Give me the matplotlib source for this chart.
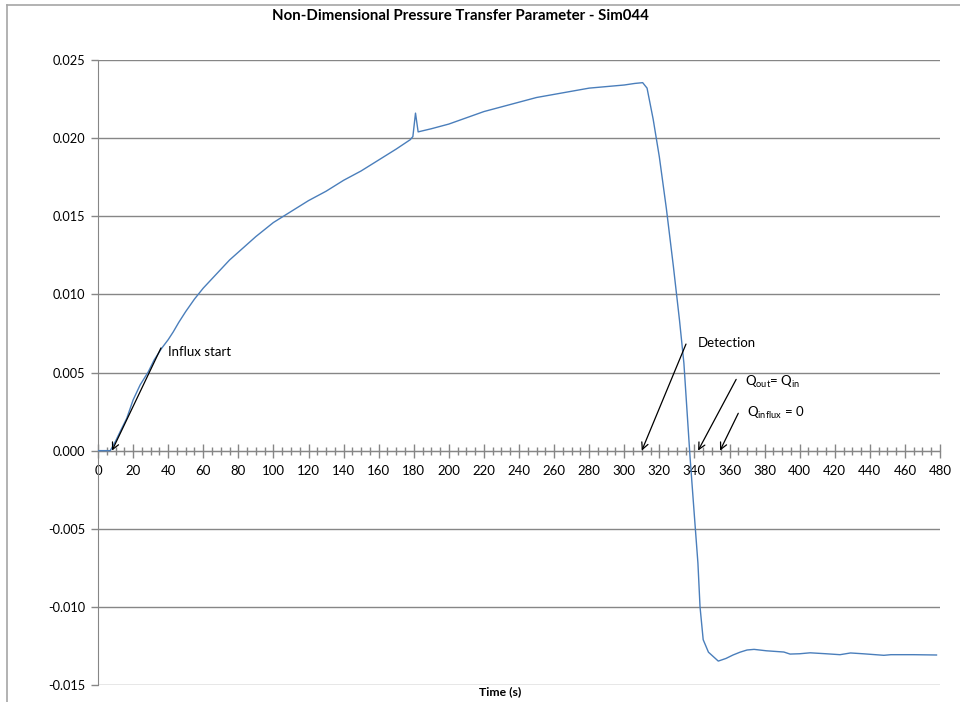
import matplotlib
matplotlib.use("Agg")
import matplotlib.pyplot as plt
from matplotlib.ticker import MultipleLocator, FormatStrFormatter
from matplotlib.lines import Line2D

plt.rcParams['font.family'] = ['Lato', 'DejaVu Sans']
plt.rcParams['mathtext.fontset'] = 'custom'
plt.rcParams['mathtext.rm'] = 'Lato'
plt.rcParams['axes.unicode_minus'] = False

# Pressure transfer parameter over simulation time
time_s = [0, 7, 10, 13, 16.4, 20, 24, 28.7, 32, 36.3, 40, 42.9, 46, 50, 55,
          60, 65, 70, 75, 80, 90, 100, 110, 120, 130, 140, 150, 160, 170, 178,
          179.5, 181, 182.5, 190, 200, 210, 220, 230, 240, 250, 260, 270,
          280, 290, 300, 306, 310.5, 313, 316.5, 320, 324, 328, 331.5, 334,
          337.5, 340, 342, 343.2, 345, 348, 353.6, 358, 362, 366, 370, 374,
          381, 391, 394.5, 400, 406, 415, 423, 429, 436, 448, 452, 465, 478]
pressure_param = [0, 0, 0.0006, 0.0013, 0.00207, 0.00324, 0.0042, 0.00505,
                  0.0058, 0.00655, 0.0071, 0.0076, 0.0082, 0.0089, 0.0097,
                  0.0104, 0.0110, 0.0116, 0.0122, 0.0127, 0.0137, 0.0146,
                  0.0153, 0.0160, 0.0166, 0.0173, 0.0179, 0.0186, 0.0193,
                  0.0199, 0.0201, 0.0216, 0.0204, 0.0206, 0.0209, 0.0213,
                  0.0217, 0.0220, 0.0223, 0.0226, 0.0228, 0.0230, 0.0232,
                  0.0233, 0.0234, 0.0235, 0.02355, 0.0232, 0.0212, 0.0188,
                  0.0155, 0.0118, 0.00834, 0.0056, -0.0004, -0.0042, -0.0072,
                  -0.0100, -0.0121, -0.0129, -0.01347, -0.0133, -0.01308,
                  -0.0129, -0.01276, -0.01272, -0.01281, -0.01289, -0.01302,
                  -0.0130, -0.01294, -0.0130, -0.01306, -0.01295, -0.0130,
                  -0.0131, -0.01306, -0.01306, -0.01308]

# Event annotations: label, text position, arrow tail, arrow head (data units)
events = [
    ("Influx start", (40, 0.0063), (35.9, 0.00657), (8.0, 0.0)),
    ("Detection", (342, 0.0069), (335.2, 0.00682), (310.0, 0.0)),
    (r"Q$_{\mathrm{out}}$= Q$_{\mathrm{in}}$", (369, 0.0044), (363.8, 0.00456), (342.1, 0.0)),
    (r"Q$_{\mathrm{influx}}$ = 0", (370, 0.0024), (365.0, 0.00239), (354.6, 0.0)),
]

W, H = 960, 702
fig = plt.figure(figsize=(W / 100, H / 100), dpi=100)
ax = fig.add_axes([98 / W, 1 - 685 / H, (940 - 98) / W, (685 - 60) / H])

# outer chart frame
frame_c = '#a6a6a6'
fig.add_artist(Line2D([7 / W, 1], [1 - 4.5 / H, 1 - 4.5 / H], color=frame_c, lw=1.2,
                      transform=fig.transFigure))
fig.add_artist(Line2D([7 / W, 7 / W], [0, 1 - 4.5 / H], color=frame_c, lw=1.2,
                      transform=fig.transFigure))

ax.plot(time_s, pressure_param, color='#4a7ebb', lw=1.0, zorder=3)

ax.set_xlim(0, 480)
ax.set_ylim(-0.015, 0.025)
ax.xaxis.set_major_locator(MultipleLocator(20))
ax.xaxis.set_minor_locator(MultipleLocator(5))
ax.yaxis.set_major_locator(MultipleLocator(0.005))
ax.yaxis.set_major_formatter(FormatStrFormatter('%.3f'))

axis_c = '#868686'
ax.grid(axis='y', color=axis_c, lw=1.0)
ax.set_axisbelow(True)
for s in ('top', 'right'):
    ax.spines[s].set_visible(False)
ax.spines['left'].set_color(axis_c)
ax.spines['bottom'].set_color(axis_c)
ax.spines['bottom'].set_position(('data', 0))
ax.spines['bottom'].set_zorder(2)

ax.tick_params(axis='x', which='major', direction='inout', length=10, width=1,
               color=axis_c, labelsize=9.5, pad=5)
ax.tick_params(axis='x', which='minor', direction='inout', length=6, width=1,
               color=axis_c)
ax.tick_params(axis='y', which='major', direction='out', length=5, width=1,
               color=axis_c, labelsize=9.2, pad=4)

for label, txt_xy, tail, head in events:
    ax.annotate('', xy=head, xytext=tail,
                arrowprops=dict(arrowstyle='->', color='black', lw=0.9,
                                shrinkA=0, shrinkB=0, mutation_scale=12),
                zorder=4)
    ax.text(txt_xy[0], txt_xy[1], label, fontsize=9.5, ha='left', va='center',
            zorder=5)

fig.text(460 / W, 1 - 16 / H, 'Non-Dimensional Pressure Transfer Parameter - Sim044',
         ha='center', va='center', fontsize=10.8, fontweight='bold')
fig.text(500 / W, 1 - 692 / H, 'Time (s)', ha='center', va='center',
         fontsize=8.8, fontweight='bold')

fig.savefig('out.png', dpi=100)
